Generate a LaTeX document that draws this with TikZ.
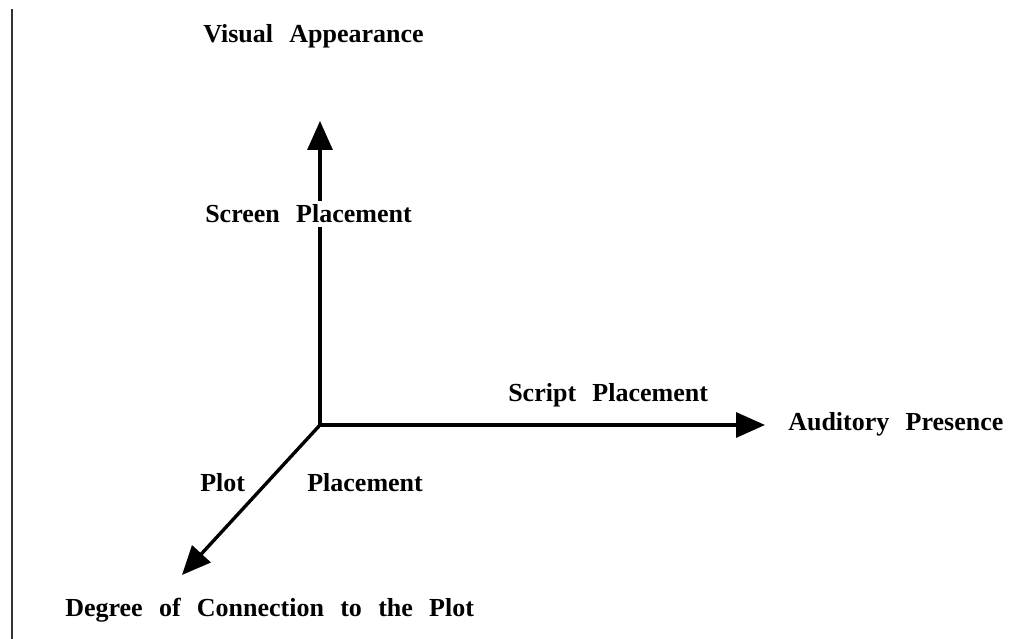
\documentclass[tikz,border=0pt]{standalone}
\usepackage{fontspec}
\setmainfont{Liberation Serif}[WordSpace=2.5]
\usetikzlibrary{arrows.meta}
\tikzset{
  axis/.style={line width=2.4pt, -{Triangle[length=0.72cm, width=0.62cm]}},
  axislabel/.style={font=\fontsize{18.5}{22}\selectfont\bfseries, inner sep=0pt},
}

\begin{document}
\begin{tikzpicture}
            \useasboundingbox (-8.0, -5.35) rectangle (17.8, 10.625);
            % Axes
            \coordinate (o) at (0, 0);
            \coordinate (v) at (0, 7.6);
            \coordinate (h) at (11.125, 0);
            \coordinate (d) at (-3.45, -3.75);

            \draw[axis] (o) -- (v);
            \draw[axis] (o) -- (h);
            \draw[axis] (o) -- (d);

            % Left rule
            \coordinate (rt) at (-7.71, 10.4);
            \coordinate (rb) at (-7.71, -5.35);
            \draw[line width=1.5pt, black!80] (rt) -- (rb);

            % Labels
            \node[axislabel, anchor=base west] (visual) at (-2.925, 9.55) {Visual Appearance};
            \node[axislabel, anchor=base west, fill=white, inner ysep=3pt] (screen) at (-2.875, 5.05) {Screen Placement};
            \node[axislabel, anchor=base west] (script) at (4.7, 0.575) {Script Placement};
            \node[axislabel, anchor=base west] (auditory) at (11.7, -0.15) {Auditory Presence};
            \node[axislabel, anchor=base west] (plot) at (-3.0, -1.675) {Plot};
            \node[axislabel, anchor=base west] (placement) at (-0.325, -1.675) {Placement};
            \node[axislabel, anchor=base west] (degree) at (-6.375, -4.8) {Degree of Connection to the Plot};
\end{tikzpicture}
\end{document}
